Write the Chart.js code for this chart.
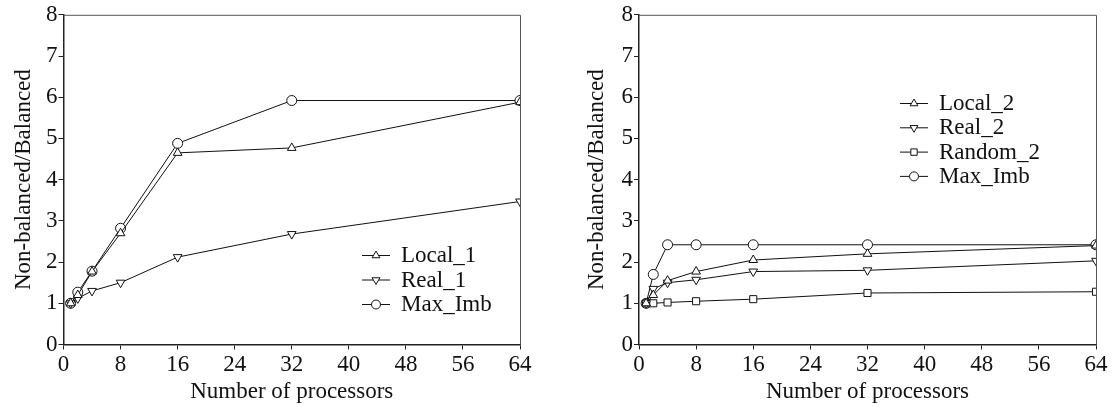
<!DOCTYPE html>
<html>
<head>
<meta charset="utf-8">
<script src="https://cdn.jsdelivr.net/npm/chart.js"></script>
<style>
  body { margin: 0; background: #fff; }
  .wrap { display: flex; width: 1116px; height: 406px; }
  .box { position: relative; width: 558px; height: 406px; }
</style>
</head>
<body>
<div class="wrap">
  <div class="box"><canvas id="left"></canvas></div>
  <div class="box"><canvas id="right"></canvas></div>
</div>
<script>
// processors (x values)
const procs = [1, 2, 4, 8, 16, 32, 64];

// left panel
const local1 = [1.0, 1.2, 1.77, 2.7, 4.65, 4.77, 5.88];
const real1 = [1.0, 1.12, 1.3, 1.5, 2.12, 2.68, 3.47];
const maxImb1 = [1.0, 1.27, 1.78, 2.82, 4.88, 5.92, 5.92];

// right panel
const local2 = [1.0, 1.2, 1.55, 1.77, 2.05, 2.2, 2.4];
const real2 = [1.0, 1.35, 1.5, 1.57, 1.77, 1.8, 2.03];
const random2 = [1.0, 1.0, 1.02, 1.05, 1.1, 1.25, 1.28];
const maxImb2 = [1.0, 1.7, 2.42, 2.42, 2.42, 2.42, 2.42];

const xTicks = [0, 8, 16, 24, 32, 40, 48, 56, 64];
const yTicks = [0, 1, 2, 3, 4, 5, 6, 7, 8];

const FONT = "'Liberation Serif', 'Times New Roman', serif";
const FS = 23;

function pts(vals) {
  return vals.map((v, i) => ({ x: procs[i], y: v }));
}

function series(label, vals, style, rot) {
  return {
    label: label,
    data: pts(vals),
    borderColor: "#111",
    borderWidth: 1,
    backgroundColor: "#fff",
    pointStyle: style,
    rotation: rot || 0,
    pointRadius: 5,
    pointBorderColor: "#111",
    pointBorderWidth: 1,
    pointBackgroundColor: "#fff",
    tension: 0
  };
}

// box round the plot area
const frame = {
  id: "frame",
  beforeDatasetsDraw(chart) {
    const a = chart.chartArea;
    const ctx = chart.ctx;
    ctx.save();
    ctx.strokeStyle = "#555";
    ctx.lineWidth = 1;
    ctx.beginPath();
    ctx.moveTo(a.left, a.top + 0.5);
    ctx.lineTo(a.right + 0.5, a.top + 0.5);
    ctx.lineTo(a.right + 0.5, a.bottom);
    ctx.stroke();
    ctx.restore();
  }
};

// legend inside the plot
const innerLegend = {
  id: "innerLegend",
  afterDraw(chart, args, opts) {
    const ctx = chart.ctx;
    let y = opts.y;
    chart.data.datasets.forEach((ds) => {
      const x0 = opts.x;
      ctx.save();
      ctx.strokeStyle = "#111";
      ctx.lineWidth = 1;
      ctx.beginPath();
      ctx.moveTo(x0, y + 0.5);
      ctx.lineTo(x0 + 28, y + 0.5);
      ctx.stroke();
      ctx.fillStyle = "#fff";
      Chart.helpers.drawPoint(ctx, {
        pointStyle: ds.pointStyle,
        rotation: ds.rotation,
        radius: 4.5,
        borderWidth: 1
      }, x0 + 14, y + 0.5);
      ctx.fillStyle = "#111";
      ctx.font = FS + "px " + FONT;
      ctx.textBaseline = "middle";
      ctx.textAlign = "left";
      ctx.fillText(ds.label, x0 + 39, y + 1);
      ctx.restore();
      y += opts.step;
    });
  }
};

function makeChart(id, datasets, yWidth, padRight, titlePad, legendPos) {
  const ctx = document.getElementById(id).getContext("2d");
  return new Chart(ctx, {
    type: "line",
    data: { datasets: datasets },
    plugins: [frame, innerLegend],
    options: {
      responsive: true,
      maintainAspectRatio: false,
      animation: false,
      layout: { padding: { top: 14, right: padRight, left: 0, bottom: 0 } },
      plugins: {
        legend: { display: false },
        tooltip: { enabled: false },
        innerLegend: legendPos
      },
      elements: { point: { hoverRadius: 5 } },
      scales: {
        x: {
          type: "linear",
          min: 0,
          max: 64,
          afterBuildTicks: (s) => { s.ticks = xTicks.map((v) => ({ value: v })); },
          afterFit: (s) => { s.height = 61.5; },
          grid: { display: true, drawOnChartArea: false, tickLength: 5, color: "#222", tickWidth: 1 },
          border: { display: true, color: "#222", width: 1.5 },
          ticks: { color: "#111", font: { family: FONT, size: FS }, padding: 2, maxRotation: 0 },
          title: {
            display: true,
            text: "Number of processors",
            color: "#111",
            font: { family: FONT, size: FS },
            padding: { top: 0, bottom: 0 }
          }
        },
        y: {
          min: 0,
          max: 8,
          afterBuildTicks: (s) => { s.ticks = yTicks.map((v) => ({ value: v })); },
          afterFit: (s) => { s.width = yWidth; },
          grid: { display: true, drawOnChartArea: false, tickLength: 5, color: "#222", tickWidth: 1 },
          border: { display: true, color: "#222", width: 1.5 },
          ticks: { color: "#111", font: { family: FONT, size: FS }, padding: 1 },
          title: {
            display: true,
            text: "Non-balanced/Balanced",
            color: "#111",
            font: { family: FONT, size: FS },
            padding: { top: titlePad, bottom: 0 }
          }
        }
      }
    }
  });
}

makeChart("left", [
  series("Local_1", local1, "triangle"),
  series("Real_1", real1, "triangle", 180),
  series("Max_Imb", maxImb1, "circle")
], 63.5, 38, 10, { x: 362, y: 255, step: 24.5 });

makeChart("right", [
  series("Local_2", local2, "triangle"),
  series("Real_2", real2, "triangle", 180),
  series("Random_2", random2, "rect"),
  series("Max_Imb", maxImb2, "circle")
], 81, 20, 25, { x: 342, y: 103, step: 24.3 });
</script>
</body>
</html>
